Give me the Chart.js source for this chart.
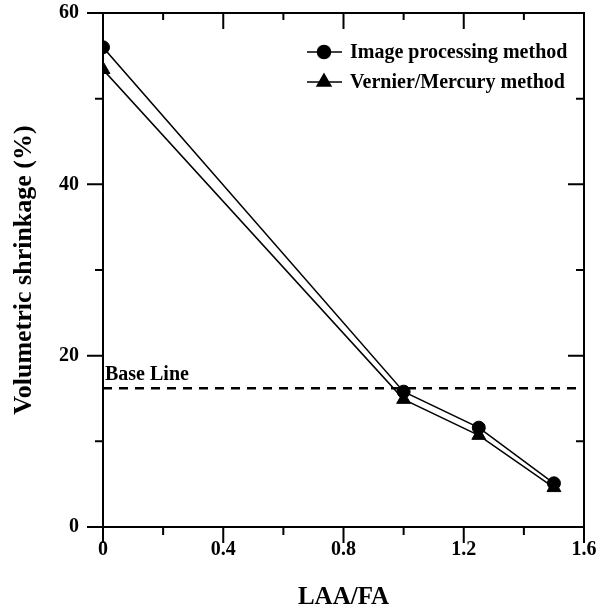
<!DOCTYPE html>
<html>
<head>
<meta charset="utf-8">
<script src="https://cdn.jsdelivr.net/npm/chart.js@4"></script>
<style>
  html, body { margin:0; padding:0; background:#fff; }
  #wrap { width:598px; height:613px; position:relative; }
</style>
</head>
<body>
<div id="wrap"><canvas id="myChart" width="598" height="613"></canvas></div>
<script>
// data
var xValues = [0, 1.0, 1.25, 1.5];
var imageProcessing = [56.0, 15.8, 11.6, 5.1];
var vernierMercury = [53.4, 14.9, 10.7, 4.6];
var baseLineValue = 16.2;
var xRange = [0, 1.6];
var yRange = [0, 60];
var seriesNames = ['Image processing method', 'Vernier/Mercury method'];
var baseLineLabel = 'Base Line';

var FONT = '"Liberation Serif", "Times New Roman", serif';

function toPoints(xs, ys) {
  var pts = [];
  for (var i = 0; i < xs.length; i++) pts.push({x: xs[i], y: ys[i]});
  return pts;
}

// frame, minor/major ticks, legend and the base line label
var decor = {
  id: 'decor',
  afterDraw: function(chart) {
    var ctx = chart.ctx;
    var a = chart.chartArea;
    var xs = chart.scales.x, ys = chart.scales.y;
    ctx.save();
    ctx.strokeStyle = '#000';
    ctx.lineWidth = 2;
    ctx.strokeRect(a.left, a.top, a.right - a.left, a.bottom - a.top);

    ctx.beginPath();
    xs.ticks.forEach(function(t) {
      var px = xs.getPixelForValue(t.value);
      var major = Math.round(t.value * 10) % 4 === 0;
      var len = major ? 16 : 8;
      ctx.moveTo(px, a.bottom); ctx.lineTo(px, a.bottom + len);
      ctx.moveTo(px, a.top); ctx.lineTo(px, a.top + (major ? 16 : 7));
    });
    ys.ticks.forEach(function(t) {
      var py = ys.getPixelForValue(t.value);
      var major = Math.round(t.value) % 20 === 0;
      var len = major ? 16 : 8;
      ctx.moveTo(a.left, py); ctx.lineTo(a.left - len, py);
      ctx.moveTo(a.right, py); ctx.lineTo(a.right - len, py);
    });
    ctx.stroke();

    // legend
    ctx.font = 'bold 20px ' + FONT;
    ctx.textBaseline = 'middle';
    ctx.fillStyle = '#000';
    var rows = [52, 82];
    for (var i = 0; i < 2; i++) {
      var ds = chart.data.datasets[i];
      var y = rows[i];
      ctx.lineWidth = 1.5;
      ctx.beginPath();
      ctx.moveTo(307, y); ctx.lineTo(342, y);
      ctx.stroke();
      Chart.helpers.drawPoint(ctx, {pointStyle: ds.pointStyle, radius: ds.pointRadius, borderWidth: 1}, 324, y);
      ctx.fill();
      ctx.fillText(ds.label, 350, y + 1);
    }

    // base line label
    ctx.font = 'bold 20px ' + FONT;
    ctx.textBaseline = 'alphabetic';
    ctx.fillText(baseLineLabel, xs.getPixelForValue(0) + 2, ys.getPixelForValue(baseLineValue) - 8);
    ctx.restore();
  }
};

var chart = new Chart(document.getElementById('myChart').getContext('2d'), {
  type: 'scatter',
  data: {
    datasets: [{
      label: seriesNames[0],
      data: toPoints(xValues, imageProcessing),
      showLine: true,
      borderColor: '#000',
      backgroundColor: '#000',
      borderWidth: 1.5,
      pointStyle: 'circle',
      pointRadius: 6.5,
      pointBorderWidth: 1
    }, {
      label: seriesNames[1],
      data: toPoints(xValues, vernierMercury),
      showLine: true,
      borderColor: '#000',
      backgroundColor: '#000',
      borderWidth: 1.5,
      pointStyle: 'triangle',
      pointRadius: 8,
      pointBorderWidth: 1
    }, {
      label: baseLineLabel,
      data: [{x: xRange[0], y: baseLineValue}, {x: xRange[1], y: baseLineValue}],
      showLine: true,
      borderColor: '#000',
      borderWidth: 2.5,
      borderDash: [9, 7],
      pointRadius: 0
    }]
  },
  options: {
    responsive: false,
    animation: false,
    layout: { padding: { top: 13, right: 14, left: 0, bottom: 0 } },
    plugins: { legend: { display: false }, tooltip: { enabled: false } },
    scales: {
      x: {
        type: 'linear', min: xRange[0], max: xRange[1],
        grid: { display: false, drawTicks: false },
        border: { display: false },
        ticks: {
          stepSize: 0.2, padding: 11, color: '#000', maxRotation: 0, autoSkip: false,
          font: { family: FONT, size: 20, weight: 'bold' },
          callback: function(v) { return Math.round(v * 10) % 4 === 0 ? String(Math.round(v * 10) / 10) : ''; }
        },
        title: { display: true, text: 'LAA/FA', color: '#000', padding: 0,
          font: { family: FONT, size: 25, weight: 'bold' } },
        afterFit: function(s) { s.height = 86; s.paddingLeft = 0; s.paddingRight = 0; }
      },
      y: {
        type: 'linear', min: yRange[0], max: yRange[1],
        grid: { display: false, drawTicks: false },
        border: { display: false },
        ticks: {
          stepSize: 10, padding: 24, color: '#000', autoSkip: false,
          font: { family: FONT, size: 20, weight: 'bold' },
          callback: function(v) { return Math.round(v) % 20 === 0 ? String(v) : ''; }
        },
        title: { display: true, text: 'Volumetric shrinkage (%)', color: '#000', padding: {top: 9, bottom: 0},
          font: { family: FONT, size: 26, weight: 'bold' } },
        afterFit: function(s) { s.width = 103; s.paddingTop = 0; s.paddingBottom = 0; }
      }
    }
  },
  plugins: [decor]
});
</script>
</body>
</html>
